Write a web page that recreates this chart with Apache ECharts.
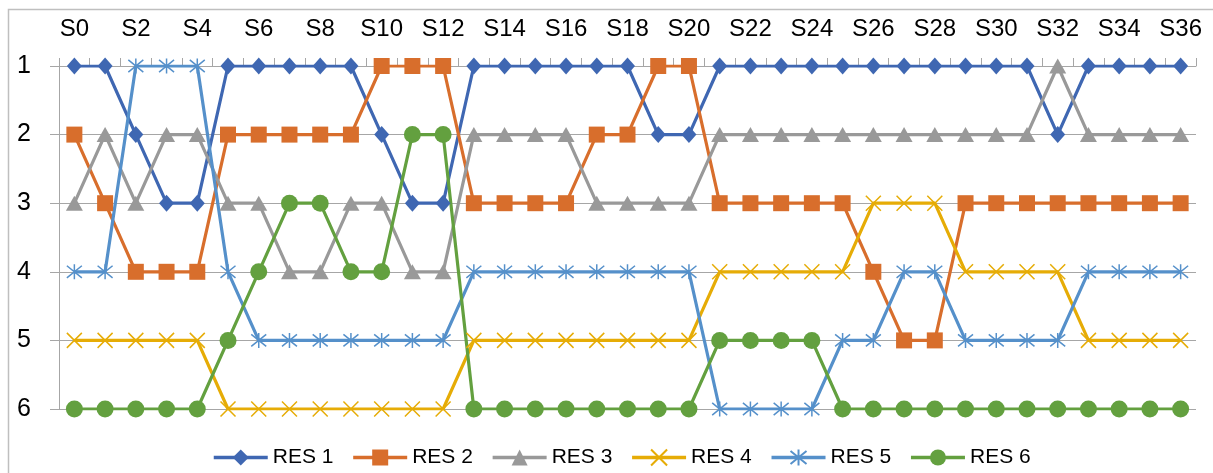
<!DOCTYPE html>
<html>
<head>
<meta charset="utf-8">
<script src="https://cdn.jsdelivr.net/npm/echarts@6/dist/echarts.min.js"></script>
<style>
  html, body { margin: 0; padding: 0; background: #fff; }
  #chart { width: 1213px; height: 473px; }
</style>
</head>
<body>
<div id="chart"></div>
<script>
// Stage labels S0 … S36
const stages = ['S0','S1','S2','S3','S4','S5','S6','S7','S8','S9','S10','S11','S12',
  'S13','S14','S15','S16','S17','S18','S19','S20','S21','S22','S23','S24','S25',
  'S26','S27','S28','S29','S30','S31','S32','S33','S34','S35','S36'];

// Rank of each resource at every stage (1 = best)
const res1 = [1,1,2,3,3,1,1,1,1,1,2,3,3,1,1,1,1,1,1,2,2,1,1,1,1,1,1,1,1,1,1,1,2,1,1,1,1];
const res2 = [2,3,4,4,4,2,2,2,2,2,1,1,1,3,3,3,3,2,2,1,1,3,3,3,3,3,4,5,5,3,3,3,3,3,3,3,3];
const res3 = [3,2,3,2,2,3,3,4,4,3,3,4,4,2,2,2,2,3,3,3,3,2,2,2,2,2,2,2,2,2,2,2,1,2,2,2,2];
const res4 = [5,5,5,5,5,6,6,6,6,6,6,6,6,5,5,5,5,5,5,5,5,4,4,4,4,4,3,3,3,4,4,4,4,5,5,5,5];
const res5 = [4,4,1,1,1,4,5,5,5,5,5,5,5,4,4,4,4,4,4,4,4,6,6,6,6,5,5,4,4,5,5,5,5,4,4,4,4];
const res6 = [6,6,6,6,6,5,4,3,3,4,4,2,2,6,6,6,6,6,6,6,6,5,5,5,5,6,6,6,6,6,6,6,6,6,6,6,6];

const seriesNames = ['RES 1','RES 2','RES 3','RES 4','RES 5','RES 6'];
const rankTicks = [1,2,3,4,5,6];

const FONT = '"Liberation Sans", Arial, sans-serif';
const GRID_GREY = '#A6A6A6';

const palette = ['#3F67B2', '#D86E2C', '#999999', '#E6AC06', '#5590CA', '#63A03F'];

// Cross and asterisk markers, stroked rather than filled
const CROSS = 'path://M0,0L10,10M10,0L0,10';
const STAR = 'path://M0,0L10,10M10,0L0,10M5,-1.2L5,11.2';

const markerDefs = [
  { symbol: 'diamond',  size: [15, 17], stroke: 0 },
  { symbol: 'rect',     size: 16,       stroke: 0 },
  { symbol: 'triangle', size: [17, 15], stroke: 0 },
  { symbol: CROSS,      size: 15,       stroke: 1.5 },
  { symbol: STAR,       size: 15,       stroke: 1.5 },
  { symbol: 'circle',   size: 17,       stroke: 0 }
];

const allData = [res1, res2, res3, res4, res5, res6];

const series = allData.map((d, i) => {
  const m = markerDefs[i];
  return {
    name: seriesNames[i],
    type: 'line',
    data: d,
    symbol: m.symbol,
    symbolSize: m.size,
    showAllSymbol: true,
    animation: false,
    lineStyle: { color: palette[i], width: 3.2 },
    itemStyle: m.stroke
      ? { color: 'rgba(0,0,0,0)', borderColor: palette[i], borderWidth: m.stroke }
      : { color: palette[i], borderWidth: 0 },
    emphasis: { disabled: true }
  };
});

const chart = echarts.init(document.getElementById('chart'), null, { renderer: 'canvas' });

chart.setOption({
  backgroundColor: '#ffffff',
  color: palette,
  animation: false,
  graphic: [
    { type: 'polyline', silent: true,
      shape: { points: [[8.5, 480], [8.5, 9.5], [1220, 9.5]] },
      style: { stroke: '#BFBFBF', lineWidth: 1.5, fill: null } }
  ],
  grid: { left: 59, right: 17, top: 66, bottom: 64, containLabel: false },
  legend: {
    bottom: 0,
    left: 207,
    itemWidth: 54,
    itemHeight: 20,
    itemGap: 18,
    lineStyle: { width: 3.5 },
    textStyle: { fontFamily: FONT, fontSize: 21, color: '#000' },
    data: seriesNames
  },
  xAxis: {
    type: 'category',
    position: 'top',
    data: stages,
    boundaryGap: true,
    axisLine: { show: true, lineStyle: { color: GRID_GREY, width: 1 } },
    axisTick: { show: true, interval: 0, length: 8, inside: false,
                lineStyle: { color: GRID_GREY, width: 1 } },
    axisLabel: { interval: 1, margin: 25, fontFamily: FONT, fontSize: 24, color: '#000' },
    splitLine: { show: false }
  },
  yAxis: {
    type: 'value',
    inverse: true,
    min: 1,
    max: 6,
    interval: 1,
    axisLine: { show: true, lineStyle: { color: GRID_GREY, width: 1 } },
    axisTick: { show: true, length: 9, lineStyle: { color: GRID_GREY, width: 1 } },
    axisLabel: {
      margin: 28, fontFamily: FONT, fontSize: 25, color: '#000',
      formatter: v => (rankTicks.includes(v) ? String(v) : '')
    },
    splitLine: { show: true, lineStyle: { color: GRID_GREY, width: 1 } }
  },
  series: series
});
</script>
</body>
</html>
